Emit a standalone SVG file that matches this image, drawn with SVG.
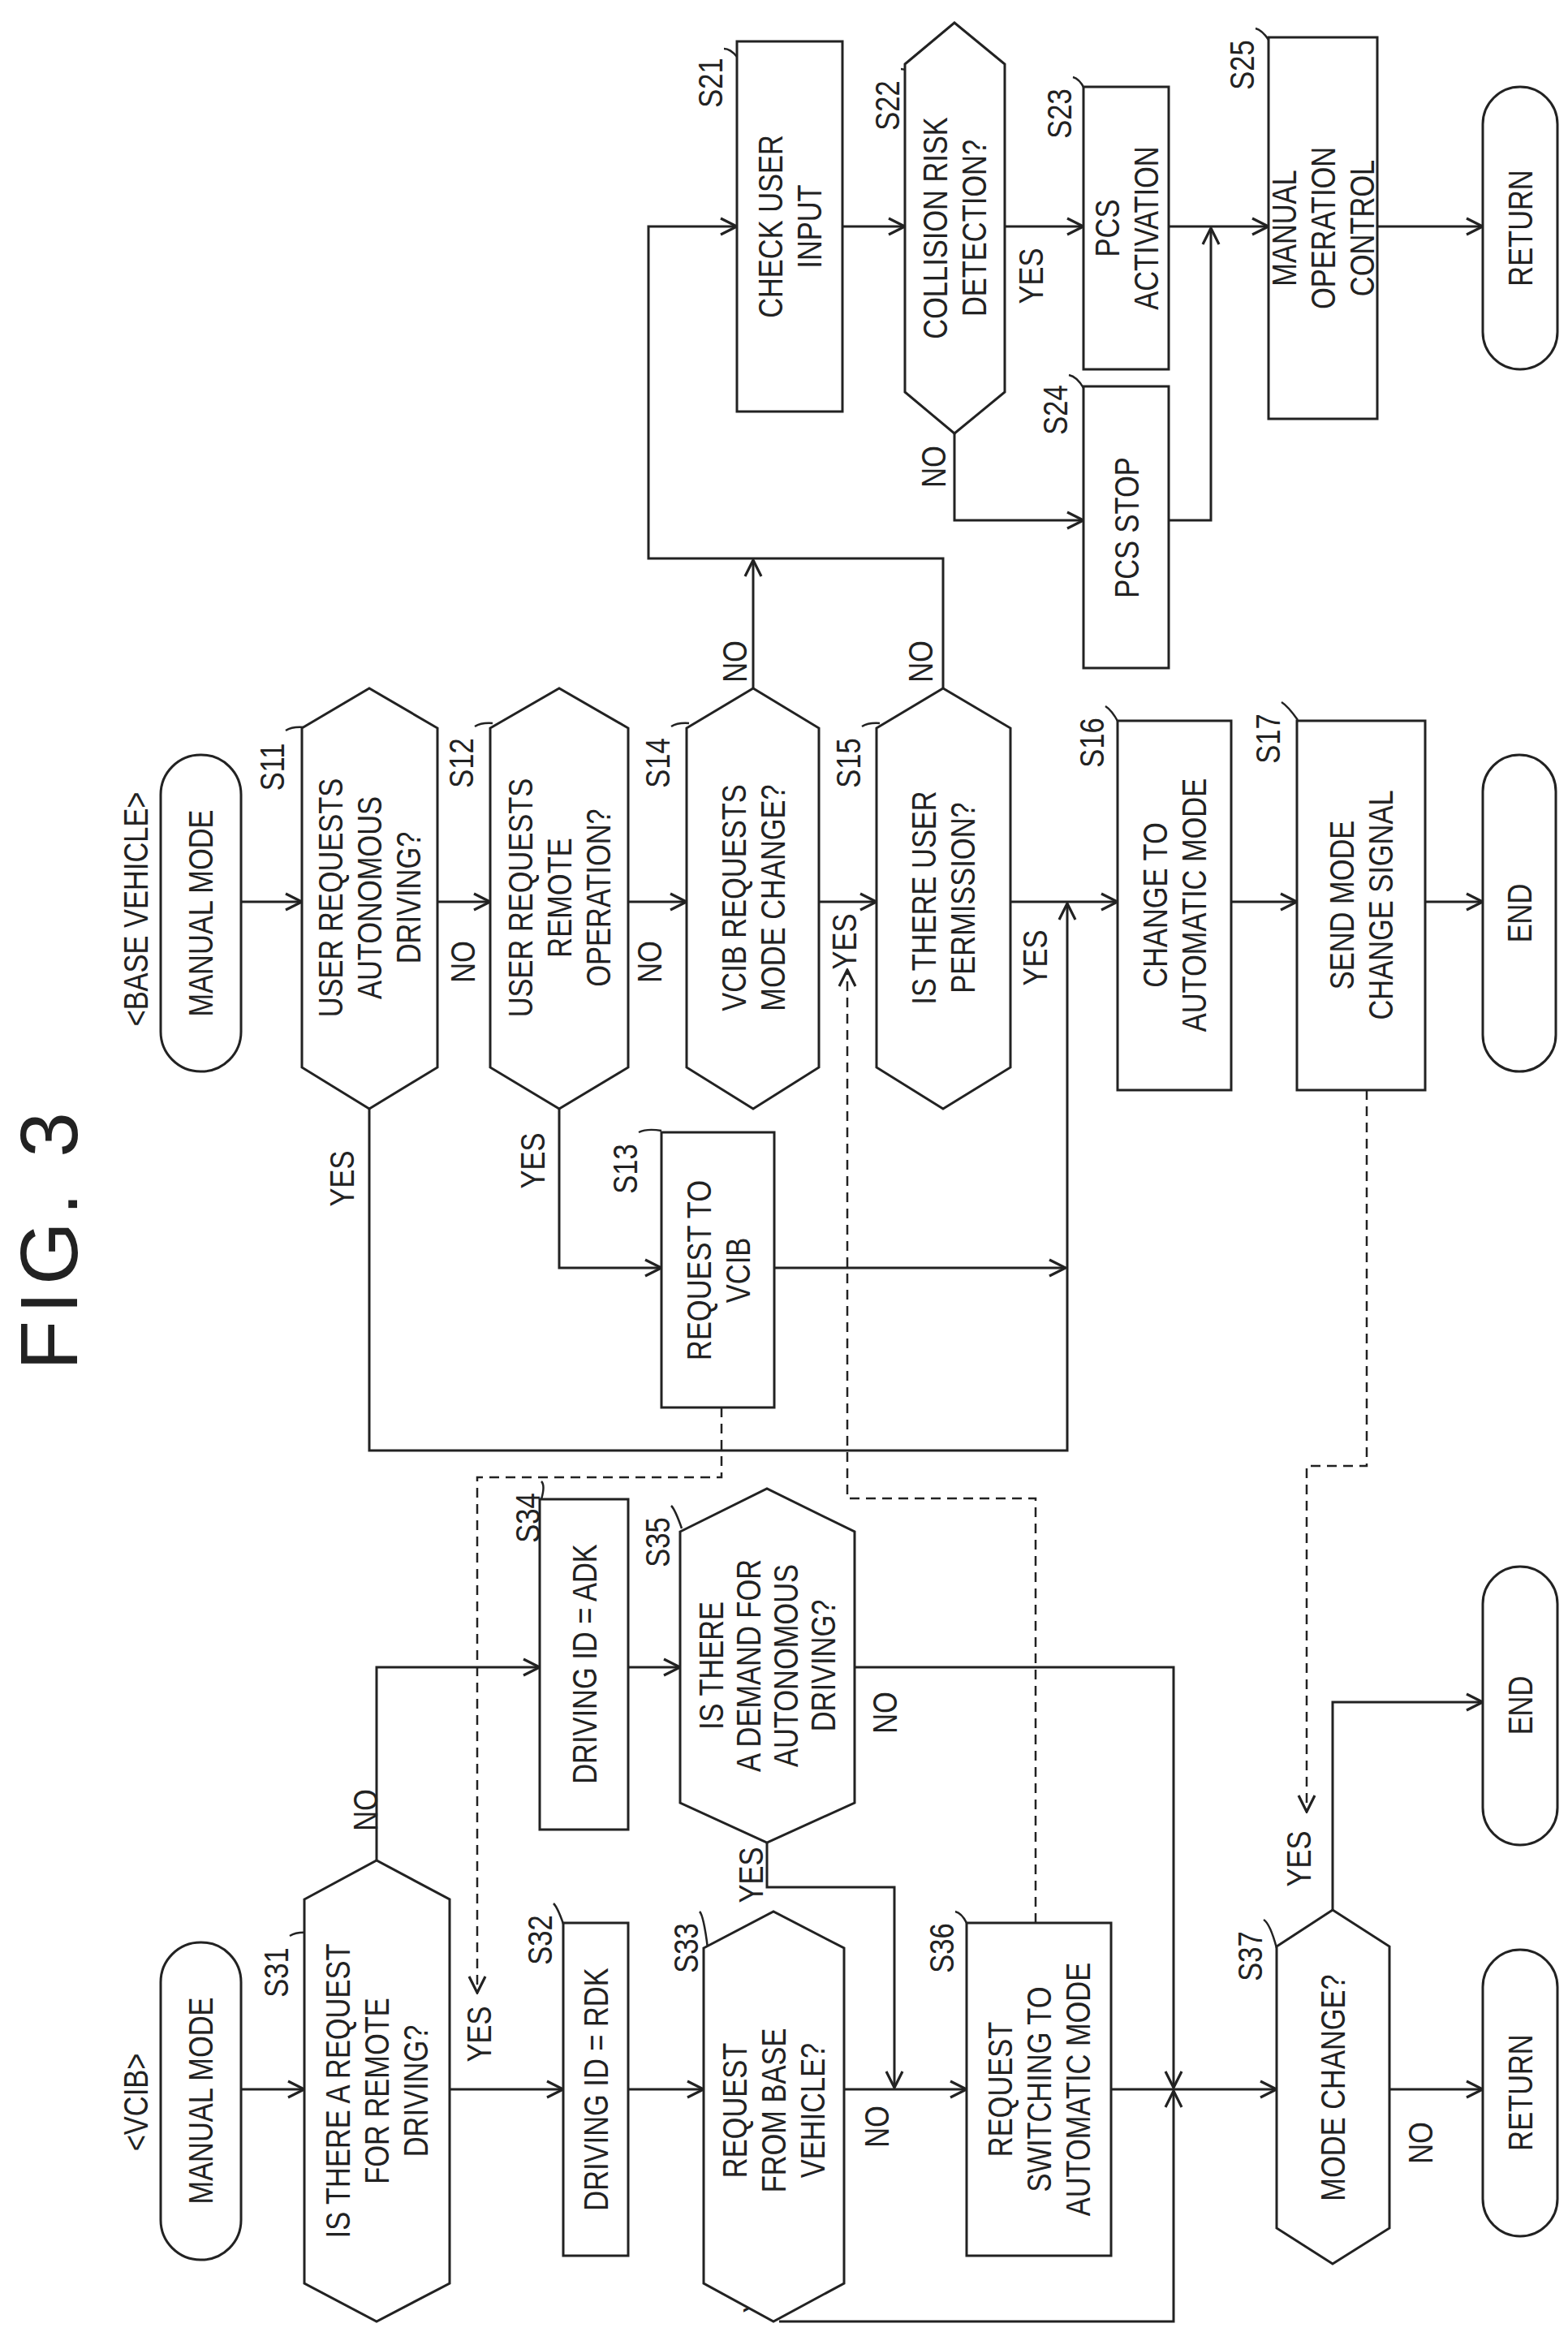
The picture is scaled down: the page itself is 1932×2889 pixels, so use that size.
<svg xmlns="http://www.w3.org/2000/svg" width="1932" height="2889" viewBox="0 0 1932 2889">
<style>
.s{fill:#fff;stroke:#222;stroke-width:3}
.t{font-family:"Liberation Sans",Arial,sans-serif;font-size:42px;fill:#222;text-anchor:middle}
.c path{fill:none;stroke:#222;stroke-width:3;marker-end:url(#a)}
.c path.d{stroke-dasharray:12 8;stroke-width:2.5}
.c path.n{marker-end:none}
.l{fill:none;stroke:#222;stroke-width:2.5}
</style>
<defs>
<marker id="a" markerUnits="userSpaceOnUse" markerWidth="24" markerHeight="24" viewBox="0 0 12 12" refX="11" refY="6" orient="auto"><path d="M1,1 L11,6 L1,11" fill="none" stroke="#222" stroke-width="1.6"/></marker>
</defs>
<rect width="1932" height="2889" fill="#fff"/>
<text class="t" style="font-size:100px;letter-spacing:8px" transform="translate(95,1525) rotate(-90)">FIG. 3</text>

<g id="connectors" class="c">
<path d="M297,1111 H372"/><path d="M539,1111 H604"/><path d="M774,1111 H846"/><path d="M1009,1111 H1080"/>
<path d="M1245,1111 H1377"/><path d="M1517,1111 H1598"/><path d="M1756,1111 H1827"/>
<path d="M455,1366 V1787 H1315 V1113"/>
<path d="M689,1366 V1562 H815"/>
<path d="M954,1562 H1313"/>
<path d="M928,848 V690"/>
<path d="M1162,848 V688 H799 V279 H908"/>
<path d="M1038,279 H1115"/><path d="M1238,279 H1335"/><path d="M1440,279 H1563"/><path d="M1697,279 H1827"/>
<path d="M1176,534 V641 H1335"/>
<path d="M1440,641 H1492 V281"/>
<path d="M297,2574 H375"/><path d="M554,2574 H694"/><path d="M774,2574 H867"/><path d="M1040,2574 H1191"/>
<path d="M1369,2574 H1573"/><path d="M1712,2574 H1827"/>
<path d="M464,2292 V2054 H665"/>
<path d="M774,2054 H838"/>
<path d="M1053,2054 H1446 V2572"/>
<path d="M945,2270 V2325 H1102 V2572"/>
<path d="M960,2860 H1446 V2576"/>
<path d="M1642,2353 V2097 H1827"/>
<path class="d" d="M889,1734 V1820 H588 V2455"/>
<path class="d" d="M1276,2369 V1846 H1044 V1195"/>
<path class="d" d="M1684,1343 V1806 H1610 V2232"/>
</g>

<g id="labels">
<text class="t" transform="translate(570,1185) rotate(-90) scale(0.82,1)"><tspan x="0" y="15">NO</tspan></text>
<text class="t" transform="translate(800,1185) rotate(-90) scale(0.82,1)"><tspan x="0" y="15">NO</tspan></text>
<text class="t" transform="translate(1040,1160) rotate(-90) scale(0.82,1)"><tspan x="0" y="15">YES</tspan></text>
<text class="t" transform="translate(1275,1180) rotate(-90) scale(0.82,1)"><tspan x="0" y="15">YES</tspan></text>
<text class="t" transform="translate(421,1452) rotate(-90) scale(0.82,1)"><tspan x="0" y="15">YES</tspan></text>
<text class="t" transform="translate(656,1430) rotate(-90) scale(0.82,1)"><tspan x="0" y="15">YES</tspan></text>
<text class="t" transform="translate(905,815) rotate(-90) scale(0.82,1)"><tspan x="0" y="15">NO</tspan></text>
<text class="t" transform="translate(1134,815) rotate(-90) scale(0.82,1)"><tspan x="0" y="15">NO</tspan></text>
<text class="t" transform="translate(1270,340) rotate(-90) scale(0.82,1)"><tspan x="0" y="15">YES</tspan></text>
<text class="t" transform="translate(1150,575) rotate(-90) scale(0.82,1)"><tspan x="0" y="15">NO</tspan></text>
<text class="t" transform="translate(590,2506) rotate(-90) scale(0.82,1)"><tspan x="0" y="15">YES</tspan></text>
<text class="t" transform="translate(450,2230) rotate(-90) scale(0.82,1)"><tspan x="0" y="15">NO</tspan></text>
<text class="t" transform="translate(1090,2110) rotate(-90) scale(0.82,1)"><tspan x="0" y="15">NO</tspan></text>
<text class="t" transform="translate(925,2310) rotate(-90) scale(0.82,1)"><tspan x="0" y="15">YES</tspan></text>
<text class="t" transform="translate(1080,2620) rotate(-90) scale(0.82,1)"><tspan x="0" y="15">NO</tspan></text>
<text class="t" transform="translate(930,2815) rotate(-90) scale(0.82,1)"><tspan x="0" y="15">YES</tspan></text>
<text class="t" transform="translate(1750,2640) rotate(-90) scale(0.82,1)"><tspan x="0" y="15">NO</tspan></text>
<text class="t" transform="translate(1600,2290) rotate(-90) scale(0.82,1)"><tspan x="0" y="15">YES</tspan></text>
<text class="t" transform="translate(167,1120) rotate(-90) scale(0.82,1)"><tspan x="0" y="15">&lt;BASE VEHICLE&gt;</tspan></text>
<text class="t" transform="translate(167,2590) rotate(-90) scale(0.82,1)"><tspan x="0" y="15">&lt;VCIB&gt;</tspan></text>
</g>

<g id="step-labels">
<text class="t" transform="translate(335,945) rotate(-90) scale(0.82,1)"><tspan x="0" y="15">S11</tspan></text><path class="l" d="M352,900 q8,-5 22,-4"/>
<text class="t" transform="translate(568,940) rotate(-90) scale(0.82,1)"><tspan x="0" y="15">S12</tspan></text><path class="l" d="M585,895 q8,-5 22,-4"/>
<text class="t" transform="translate(810,940) rotate(-90) scale(0.82,1)"><tspan x="0" y="15">S14</tspan></text><path class="l" d="M827,895 q8,-5 22,-4"/>
<text class="t" transform="translate(1045,940) rotate(-90) scale(0.82,1)"><tspan x="0" y="15">S15</tspan></text><path class="l" d="M1062,895 q8,-5 22,-4"/>
<text class="t" transform="translate(1345,915) rotate(-90) scale(0.82,1)"><tspan x="0" y="15">S16</tspan></text><path class="l" d="M1362,870 q8,5 16,20"/>
<text class="t" transform="translate(1562,910) rotate(-90) scale(0.82,1)"><tspan x="0" y="15">S17</tspan></text><path class="l" d="M1579,865 q8,5 20,22"/>
<text class="t" transform="translate(770,1440) rotate(-90) scale(0.82,1)"><tspan x="0" y="15">S13</tspan></text><path class="l" d="M787,1395 q10,-5 28,-2"/>
<text class="t" transform="translate(875,102) rotate(-90) scale(0.82,1)"><tspan x="0" y="15">S21</tspan></text><path class="l" d="M892,60 q8,0 16,10"/>
<text class="t" transform="translate(1093,130) rotate(-90) scale(0.82,1)"><tspan x="0" y="15">S22</tspan></text><path class="l" d="M1110,85 q8,0 16,10"/>
<text class="t" transform="translate(1305,140) rotate(-90) scale(0.82,1)"><tspan x="0" y="15">S23</tspan></text><path class="l" d="M1322,95 q8,2 14,14"/>
<text class="t" transform="translate(1300,505) rotate(-90) scale(0.82,1)"><tspan x="0" y="15">S24</tspan></text><path class="l" d="M1317,462 q10,2 18,16"/>
<text class="t" transform="translate(1530,80) rotate(-90) scale(0.82,1)"><tspan x="0" y="15">S25</tspan></text><path class="l" d="M1547,35 q8,2 16,14"/>
<text class="t" transform="translate(340,2430) rotate(-90) scale(0.82,1)"><tspan x="0" y="15">S31</tspan></text><path class="l" d="M357,2385 q8,-5 22,-4"/>
<text class="t" transform="translate(665,2390) rotate(-90) scale(0.82,1)"><tspan x="0" y="15">S32</tspan></text><path class="l" d="M682,2345 q5,5 12,25"/>
<text class="t" transform="translate(845,2400) rotate(-90) scale(0.82,1)"><tspan x="0" y="15">S33</tspan></text><path class="l" d="M862,2355 q5,5 10,45"/>
<text class="t" transform="translate(650,1870) rotate(-90) scale(0.82,1)"><tspan x="0" y="15">S34</tspan></text><path class="l" d="M667,1825 q5,5 0,22"/>
<text class="t" transform="translate(810,1900) rotate(-90) scale(0.82,1)"><tspan x="0" y="15">S35</tspan></text><path class="l" d="M827,1855 q5,5 13,28"/>
<text class="t" transform="translate(1160,2400) rotate(-90) scale(0.82,1)"><tspan x="0" y="15">S36</tspan></text><path class="l" d="M1177,2355 q8,2 14,14"/>
<text class="t" transform="translate(1540,2410) rotate(-90) scale(0.82,1)"><tspan x="0" y="15">S37</tspan></text><path class="l" d="M1557,2365 q8,5 16,35"/>
</g>

<g id="bv-manual"><rect class="s" x="198" y="930" width="99" height="390" rx="49"/><text class="t" transform="translate(247,1125) rotate(-90) scale(0.82,1)"><tspan x="0" y="15">MANUAL MODE</tspan></text></g>
<g id="S11"><polygon class="s" points="372,897 455,848 539,897 539,1315 455,1366 372,1315"/><text class="t" transform="translate(455,1106) rotate(-90) scale(0.82,1)"><tspan x="0" y="-33">USER REQUESTS</tspan><tspan x="0" y="15">AUTONOMOUS</tspan><tspan x="0" y="63">DRIVING?</tspan></text></g>
<g id="S12"><polygon class="s" points="604,897 689,848 774,897 774,1315 689,1366 604,1315"/><text class="t" transform="translate(689,1106) rotate(-90) scale(0.82,1)"><tspan x="0" y="-33">USER REQUESTS</tspan><tspan x="0" y="15">REMOTE</tspan><tspan x="0" y="63">OPERATION?</tspan></text></g>
<g id="S13"><rect class="s" x="815" y="1395" width="139" height="339"/><text class="t" transform="translate(885,1565) rotate(-90) scale(0.82,1)"><tspan x="0" y="-9">REQUEST TO</tspan><tspan x="0" y="39">VCIB</tspan></text></g>
<g id="S14"><polygon class="s" points="846,897 928,848 1009,897 1009,1315 928,1366 846,1315"/><text class="t" transform="translate(928,1106) rotate(-90) scale(0.82,1)"><tspan x="0" y="-9">VCIB REQUESTS</tspan><tspan x="0" y="39">MODE CHANGE?</tspan></text></g>
<g id="S15"><polygon class="s" points="1080,897 1162,848 1245,897 1245,1315 1162,1366 1080,1315"/><text class="t" transform="translate(1162,1106) rotate(-90) scale(0.82,1)"><tspan x="0" y="-9">IS THERE USER</tspan><tspan x="0" y="39">PERMISSION?</tspan></text></g>
<g id="S16"><rect class="s" x="1377" y="888" width="140" height="455"/><text class="t" transform="translate(1447,1115) rotate(-90) scale(0.82,1)"><tspan x="0" y="-9">CHANGE TO</tspan><tspan x="0" y="39">AUTOMATIC MODE</tspan></text></g>
<g id="S17"><rect class="s" x="1598" y="888" width="158" height="455"/><text class="t" transform="translate(1677,1115) rotate(-90) scale(0.82,1)"><tspan x="0" y="-9">SEND MODE</tspan><tspan x="0" y="39">CHANGE SIGNAL</tspan></text></g>
<g id="bv-end"><rect class="s" x="1827" y="930" width="90" height="390" rx="45"/><text class="t" transform="translate(1872,1125) rotate(-90) scale(0.82,1)"><tspan x="0" y="15">END</tspan></text></g>
<g id="S21"><rect class="s" x="908" y="51" width="130" height="456"/><text class="t" transform="translate(973,279) rotate(-90) scale(0.82,1)"><tspan x="0" y="-9">CHECK USER</tspan><tspan x="0" y="39">INPUT</tspan></text></g>
<g id="S22"><polygon class="s" points="1115,79 1176,28 1238,79 1238,483 1176,534 1115,483"/><text class="t" transform="translate(1176,281) rotate(-90) scale(0.82,1)"><tspan x="0" y="-9">COLLISION RISK</tspan><tspan x="0" y="39">DETECTION?</tspan></text></g>
<g id="S23"><rect class="s" x="1335" y="107" width="105" height="348"/><text class="t" transform="translate(1388,281) rotate(-90) scale(0.82,1)"><tspan x="0" y="-9">PCS</tspan><tspan x="0" y="39">ACTIVATION</tspan></text></g>
<g id="S24"><rect class="s" x="1335" y="476" width="105" height="347"/><text class="t" transform="translate(1388,650) rotate(-90) scale(0.82,1)"><tspan x="0" y="15">PCS STOP</tspan></text></g>
<g id="S25"><rect class="s" x="1563" y="46" width="134" height="470"/><text class="t" transform="translate(1630,281) rotate(-90) scale(0.82,1)"><tspan x="0" y="-33">MANUAL</tspan><tspan x="0" y="15">OPERATION</tspan><tspan x="0" y="63">CONTROL</tspan></text></g>
<g id="bv-return"><rect class="s" x="1827" y="107" width="92" height="348" rx="46"/><text class="t" transform="translate(1873,281) rotate(-90) scale(0.82,1)"><tspan x="0" y="15">RETURN</tspan></text></g>

<g id="vcib-manual"><rect class="s" x="198" y="2393" width="99" height="391" rx="49"/><text class="t" transform="translate(247,2588) rotate(-90) scale(0.82,1)"><tspan x="0" y="15">MANUAL MODE</tspan></text></g>
<g id="S31"><polygon class="s" points="375,2340 464,2292 554,2340 554,2813 464,2860 375,2813"/><text class="t" transform="translate(464,2576) rotate(-90) scale(0.82,1)"><tspan x="0" y="-33">IS THERE A REQUEST</tspan><tspan x="0" y="15">FOR REMOTE</tspan><tspan x="0" y="63">DRIVING?</tspan></text></g>
<g id="S32"><rect class="s" x="694" y="2369" width="80" height="410"/><text class="t" transform="translate(734,2574) rotate(-90) scale(0.82,1)"><tspan x="0" y="15">DRIVING ID = RDK</tspan></text></g>
<g id="S33"><polygon class="s" points="867,2400 953,2355 1040,2400 1040,2813 953,2860 867,2813"/><text class="t" transform="translate(953,2600) rotate(-90) scale(0.82,1)"><tspan x="0" y="-33">REQUEST</tspan><tspan x="0" y="15">FROM BASE</tspan><tspan x="0" y="63">VEHICLE?</tspan></text></g>
<g id="S34"><rect class="s" x="665" y="1847" width="109" height="407"/><text class="t" transform="translate(720,2050) rotate(-90) scale(0.82,1)"><tspan x="0" y="15">DRIVING ID = ADK</tspan></text></g>
<g id="S35"><polygon class="s" points="838,1887 945,1834 1053,1887 1053,2221 945,2270 838,2221"/><text class="t" transform="translate(945,2052) rotate(-90) scale(0.82,1)"><tspan x="0" y="-54">IS THERE</tspan><tspan x="0" y="-8">A DEMAND FOR</tspan><tspan x="0" y="38">AUTONOMOUS</tspan><tspan x="0" y="84">DRIVING?</tspan></text></g>
<g id="S36"><rect class="s" x="1191" y="2369" width="178" height="410"/><text class="t" transform="translate(1280,2574) rotate(-90) scale(0.82,1)"><tspan x="0" y="-33">REQUEST</tspan><tspan x="0" y="15">SWITCHING TO</tspan><tspan x="0" y="63">AUTOMATIC MODE</tspan></text></g>
<g id="S37"><polygon class="s" points="1573,2398 1642,2353 1712,2398 1712,2745 1642,2789 1573,2745"/><text class="t" transform="translate(1642,2572) rotate(-90) scale(0.82,1)"><tspan x="0" y="15">MODE CHANGE?</tspan></text></g>
<g id="vcib-return"><rect class="s" x="1827" y="2402" width="92" height="353" rx="46"/><text class="t" transform="translate(1873,2578) rotate(-90) scale(0.82,1)"><tspan x="0" y="15">RETURN</tspan></text></g>
<g id="vcib-end"><rect class="s" x="1827" y="1930" width="92" height="343" rx="46"/><text class="t" transform="translate(1873,2101) rotate(-90) scale(0.82,1)"><tspan x="0" y="15">END</tspan></text></g>
</svg>
